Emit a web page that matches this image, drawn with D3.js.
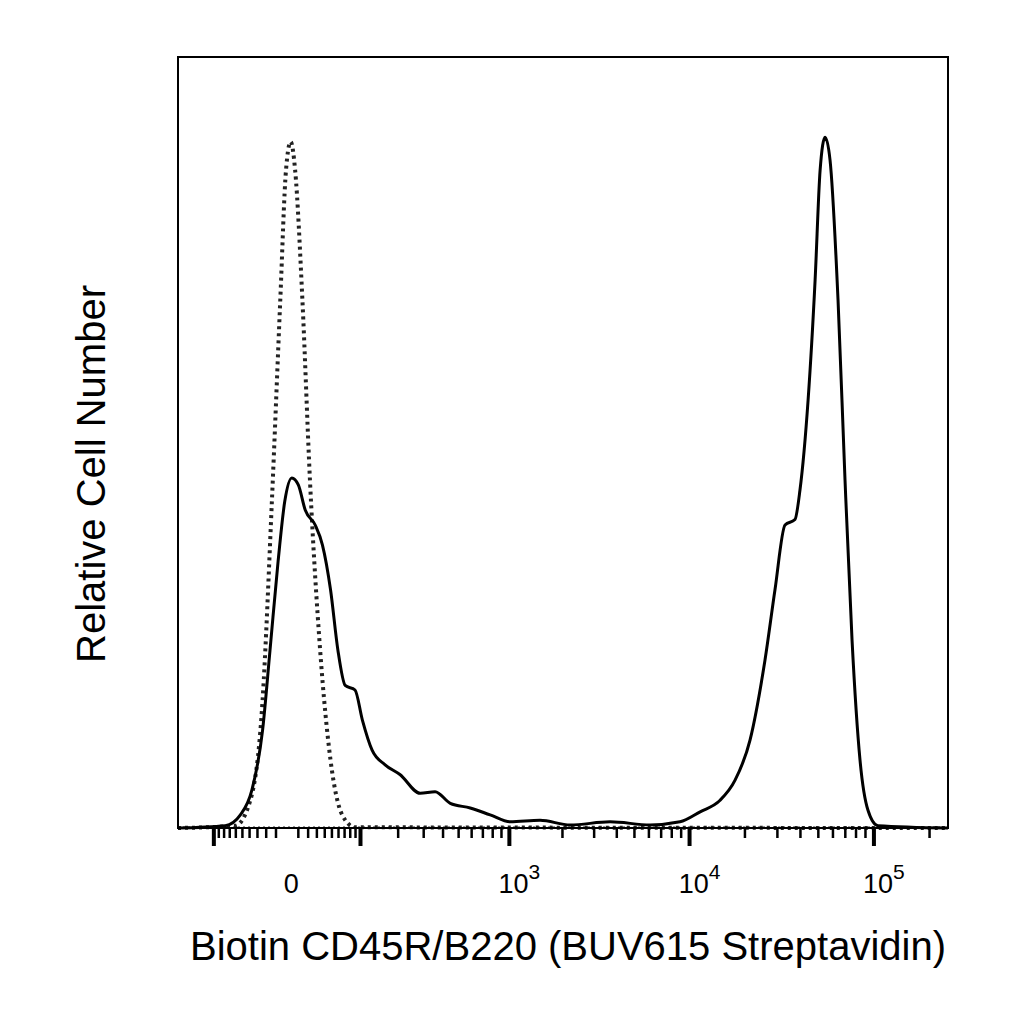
<!DOCTYPE html>
<html><head><meta charset="utf-8">
<script src="https://cdn.jsdelivr.net/npm/d3@7"></script>
<style>body{margin:0;background:#fff}text{font-family:"Liberation Sans",Arial,sans-serif}</style>
</head><body><svg id="chart" width="1024" height="1024"></svg>
<script>
// stained sample (solid)
const stainedX = [-194,-78,-53,-37,-24,-16,-8,-2,4,10,17,28,37,48,59,71,89,104,126,160,207,284,356,444,588,773,1010,1496,2208,3675,6090,8870,11420,14660,17680,21310,25700,29110,33000,37350,39750,44000,48030,51110,54400,57880,63920,69750,76110,84080,92860,105100,251700];
const stainedY = [0,0.3,1.7,4.9,12.7,23.0,34.6,42.4,45.4,44.5,41.2,39.3,36.7,30.9,23.1,18.5,17.9,14.0,10.1,8.2,6.9,4.5,4.7,3.2,2.6,1.7,0.8,1.0,0.4,0.8,0.4,0.8,2.1,3.6,6.2,11.4,21.8,30.9,39.3,40.0,43.8,55.5,71.1,85.3,89.6,86.6,68.5,45.1,24.4,8.8,2.3,0.3,0];
// isotype control (dotted)
const controlX = [-194,-61,-39,-24,-14,-6,-1,3,7,14,22,34,48,66,89,251700];
const controlY = [0,0.3,3.6,16.6,42.5,68.5,85.3,89.0,85.3,68.5,45.1,23.1,8.8,1.7,0.1,0];
const majorTicks = [-100,100,1e3,1e4,1e5];
const minorTicks = [-90,-80,-70,-60,-50,-40,-30,-20,-10,10,20,30,40,50,60,70,80,90,
  200,300,400,500,600,700,800,900,2e3,3e3,4e3,5e3,6e3,7e3,8e3,9e3,
  2e4,3e4,4e4,5e4,6e4,7e4,8e4,9e4,2e5];
const tickLabels = [{v:0,b:"0",e:""},{v:1e3,b:"10",e:"3"},{v:1e4,b:"10",e:"4"},{v:1e5,b:"10",e:"5"}];

const L = 178, R = 948, T = 57, B = 828;
const svg = d3.select('#chart');
const x = d3.scaleSymlog().constant(67).domain([-194, 251700]).range([L, R]);
const y = d3.scaleLinear().domain([0, 100]).range([B, T]);

const line = d3.line().x(d => x(d[0])).y(d => y(d[1])).curve(d3.curveMonotoneX);

svg.append('line').attr('x1', L).attr('x2', R).attr('y1', B - 1).attr('y2', B - 1)
  .attr('stroke', '#999').attr('stroke-width', 2).attr('stroke-dasharray', '2,3');

svg.append('path').datum(d3.zip(controlX, controlY)).attr('d', line)
  .attr('fill', 'none').attr('stroke', '#222').attr('stroke-width', 4)
  .attr('stroke-dasharray', '3,4');
svg.append('path').datum(d3.zip(stainedX, stainedY)).attr('d', line)
  .attr('fill', 'none').attr('stroke', '#000').attr('stroke-width', 3);

svg.append('rect').attr('x', L).attr('y', T).attr('width', R - L).attr('height', B - T)
  .attr('fill', 'none').attr('stroke', '#000').attr('stroke-width', 2);

const ax = svg.append('g');
ax.selectAll('.minor').data(minorTicks).enter().append('line')
  .attr('x1', d => x(d)).attr('x2', d => x(d)).attr('y1', B).attr('y2', B + 10)
  .attr('stroke', '#000').attr('stroke-width', 2.5);
ax.selectAll('.major').data(majorTicks).enter().append('line')
  .attr('x1', d => x(d)).attr('x2', d => x(d)).attr('y1', B).attr('y2', B + 18)
  .attr('stroke', '#000').attr('stroke-width', 4);

const lbl = ax.selectAll('.lbl').data(tickLabels).enter().append('text')
  .attr('x', d => x(d.v) + (d.e ? 10 : 4)).attr('y', 893).attr('text-anchor', 'middle')
  .attr('font-size', 27).attr('fill', '#000');
lbl.append('tspan').text(d => d.b);
lbl.append('tspan').attr('dy', -14).attr('font-size', 21).text(d => d.e);

svg.append('text').attr('x', 568).attr('y', 960).attr('text-anchor', 'middle')
  .attr('font-size', 40).text('Biotin CD45R/B220 (BUV615 Streptavidin)');
svg.append('text').attr('transform', 'translate(105,474) rotate(-90)').attr('text-anchor', 'middle')
  .attr('font-size', 40).text('Relative Cell Number');
</script></body></html>
